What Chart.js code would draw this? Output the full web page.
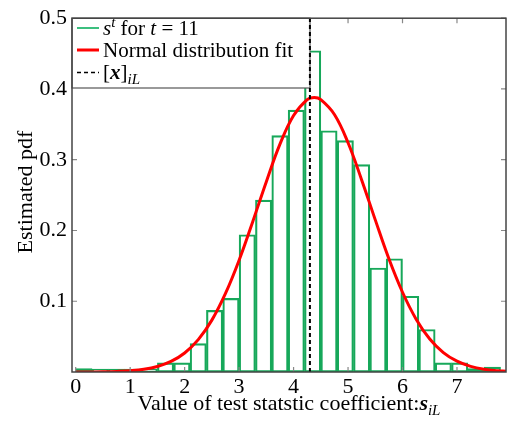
<!DOCTYPE html>
<html>
<head>
<meta charset="utf-8">
<script src="https://cdn.jsdelivr.net/npm/chart.js@4.4.1/dist/chart.umd.min.js"></script>
<style>
html, body { margin: 0; padding: 0; background: #fff; }
#wrap { width: 508px; height: 421px; position: relative; }
</style>
</head>
<body>
<div id="wrap"><canvas id="hist_chart"></canvas></div>
<script>
// histogram of s^t (bin width 0.3)
var binCenters = [0.15, 0.45, 0.75, 1.05, 1.35, 1.65, 1.95, 2.25, 2.55, 2.85, 3.15, 3.45, 3.75,
                  4.05, 4.35, 4.65, 4.95, 5.25, 5.55, 5.85, 6.15, 6.45, 6.75, 7.05, 7.35, 7.65];
var binHeights = [0.005, 0.004, 0.004, 0.004, 0.004, 0.013, 0.013, 0.040, 0.087, 0.104, 0.194, 0.243, 0.334,
                  0.370, 0.454, 0.341, 0.327, 0.293, 0.147, 0.160, 0.107, 0.060, 0.013, 0.013, 0.005, 0.007];

// normal fit curve
var fitX = [0, 0.25, 0.5, 0.75, 1, 1.25, 1.5, 1.75, 2, 2.25, 2.5, 2.75, 3, 3.25, 3.5, 3.75, 4, 4.25, 4.38,
            4.5, 4.75, 5, 5.25, 5.5, 5.75, 6, 6.25, 6.5, 6.75, 7, 7.25, 7.5, 7.75, 7.9];
var fitY = [0.0000, 0.0001, 0.0003, 0.0008, 0.0018, 0.0038, 0.0078, 0.0149, 0.0269, 0.0457, 0.0733,
            0.111, 0.158, 0.2125, 0.269, 0.322, 0.3625, 0.385, 0.388, 0.385, 0.364, 0.324, 0.2715, 0.215,
            0.160, 0.1127, 0.0747, 0.0467, 0.0275, 0.0153, 0.0080, 0.0039, 0.0018, 0.0011];

// dashed marker [x]_iL
var markerX = [4.3, 4.3];
var markerY = [0, 0.5];

var xTicks = [0, 1, 2, 3, 4, 5, 6, 7];
var yTicks = [0.1, 0.2, 0.3, 0.4, 0.5];

var GREEN = '#17a85a';
var SERIF = '"Liberation Serif", "DejaVu Serif", serif';

Chart.defaults.font.family = SERIF;
Chart.defaults.color = '#000';

function drawRich(ctx, parts, x, y) {
    parts.forEach(function (p) {
        ctx.font = (p.style || '') + ' ' + (p.size || 21) + 'px ' + SERIF;
        ctx.fillText(p.text, x, y + (p.dy || 0));
        x += ctx.measureText(p.text).width;
    });
    return x;
}

function measureRich(ctx, parts) {
    var w = 0;
    parts.forEach(function (p) {
        ctx.font = (p.style || '') + ' ' + (p.size || 21) + 'px ' + SERIF;
        w += ctx.measureText(p.text).width;
    });
    return w;
}

var framePlugin = {
    id: 'frame',
    afterDatasetDraw: function (chart, args) {
        // legend box goes over bars and fit, below the marker line
        if (args.index !== 1) return;
        var ctx = chart.ctx, a = chart.chartArea;
        var x0 = a.left, y0 = a.top, x1 = 310, y1 = 88;
        ctx.save();
        ctx.fillStyle = '#fff';
        ctx.fillRect(x0, y0, x1 - x0, y1 - y0);
        ctx.strokeStyle = '#555';
        ctx.lineWidth = 1.2;
        ctx.strokeRect(x0, y0, x1 - x0, y1 - y0);

        var rows = [28, 50, 72.5];
        ctx.lineWidth = 2;
        ctx.strokeStyle = '#3cbf7f';
        ctx.beginPath(); ctx.moveTo(77, rows[0]); ctx.lineTo(99, rows[0]); ctx.stroke();
        ctx.lineWidth = 3;
        ctx.strokeStyle = '#ff0000';
        ctx.beginPath(); ctx.moveTo(77, rows[1]); ctx.lineTo(99, rows[1]); ctx.stroke();
        ctx.lineWidth = 1.5;
        ctx.strokeStyle = '#000';
        ctx.setLineDash([4, 3]);
        ctx.beginPath(); ctx.moveTo(77, rows[2]); ctx.lineTo(99, rows[2]); ctx.stroke();
        ctx.setLineDash([]);

        ctx.fillStyle = '#000';
        ctx.textBaseline = 'alphabetic';
        ctx.textAlign = 'left';
        drawRich(ctx, [{text: 's', style: 'italic'}, {text: 't', style: 'italic', size: 15, dy: -8},
                       {text: ' for '}, {text: 't', style: 'italic'}, {text: ' = 11'}], 103, 35);
        drawRich(ctx, [{text: 'Normal distribution fit'}], 103, 57);
        drawRich(ctx, [{text: '['}, {text: 'x', style: 'italic bold'}, {text: ']'},
                       {text: 'i', style: 'italic', size: 15, dy: 5}, {text: 'L', style: 'italic', size: 15, dy: 5}], 103, 79);
        ctx.restore();
    },
    afterDraw: function (chart) {
        var ctx = chart.ctx, a = chart.chartArea;
        var xs = chart.scales.x, ys = chart.scales.y;
        ctx.save();
        // inward ticks on all four sides
        ctx.strokeStyle = '#888';
        ctx.lineWidth = 1.2;
        ctx.beginPath();
        xTicks.forEach(function (v) {
            var px = xs.getPixelForValue(v);
            ctx.moveTo(px, a.bottom); ctx.lineTo(px, a.bottom - 5);
            if (px > 312) { ctx.moveTo(px, a.top); ctx.lineTo(px, a.top + 5); }
        });
        yTicks.forEach(function (v) {
            var py = ys.getPixelForValue(v);
            if (py > 90) { ctx.moveTo(a.left, py); ctx.lineTo(a.left + 5, py); }
            ctx.moveTo(a.right, py); ctx.lineTo(a.right - 5, py);
        });
        ctx.stroke();
        // frame
        ctx.strokeStyle = '#444';
        ctx.lineWidth = 1.5;
        ctx.strokeRect(a.left, a.top, a.right - a.left, a.bottom - a.top);

        // axis titles
        ctx.fillStyle = '#000';
        ctx.textBaseline = 'alphabetic';
        ctx.textAlign = 'left';
        var xt = [{text: 'Value of test statstic coefficient:', size: 22},
                  {text: 's', style: 'italic bold', size: 22},
                  {text: 'i', style: 'italic', size: 15, dy: 5},
                  {text: 'L', style: 'italic', size: 15, dy: 5}];
        var w = measureRich(ctx, xt);
        drawRich(ctx, xt, 289 - w / 2, 410);

        ctx.translate(32, 192);
        ctx.rotate(-Math.PI / 2);
        ctx.textAlign = 'center';
        ctx.font = '22px ' + SERIF;
        ctx.fillText('Estimated pdf', 0, 0);
        ctx.restore();
    }
};

new Chart(document.getElementById('hist_chart').getContext('2d'), {
    type: 'bar',
    data: {
        datasets: [{
            type: 'bar',
            label: 's^t for t = 11',
            data: binCenters.map(function (c, i) { return {x: c, y: binHeights[i]}; }),
            backgroundColor: 'rgba(255,255,255,0)',
            borderColor: GREEN,
            borderWidth: 1.5,
            borderSkipped: false,
            barPercentage: 1,
            categoryPercentage: 1,
            order: 3
        }, {
            type: 'line',
            label: 'Normal distribution fit',
            data: fitX.map(function (x, i) { return {x: x, y: fitY[i]}; }),
            borderColor: '#ff0000',
            borderWidth: 3,
            pointRadius: 0,
            tension: 0.4,
            fill: false,
            order: 2
        }, {
            type: 'line',
            label: '[x]_iL',
            data: markerX.map(function (x, i) { return {x: x, y: markerY[i]}; }),
            borderColor: '#000',
            borderWidth: 2,
            borderDash: [4, 3],
            pointRadius: 0,
            fill: false,
            order: 1
        }]
    },
    options: {
        responsive: true,
        maintainAspectRatio: false,
        animation: false,
        layout: { padding: { top: 12, right: 2, left: 0, bottom: 0 } },
        plugins: { legend: { display: false }, tooltip: { enabled: false } },
        scales: {
            x: {
                type: 'linear',
                min: -0.068,
                max: 7.9,
                offset: false,
                afterFit: function (s) { s.height = 49; },
                afterBuildTicks: function (s) { s.ticks = xTicks.map(function (v) { return {value: v}; }); },
                ticks: { padding: 2, font: { size: 22 }, callback: function (v) { return String(v); } },
                grid: { display: false, drawTicks: false },
                border: { display: false }
            },
            y: {
                min: 0,
                max: 0.5,
                afterFit: function (s) { s.width = 72; },
                afterBuildTicks: function (s) { s.ticks = yTicks.map(function (v) { return {value: v}; }); },
                ticks: { padding: 5, font: { size: 22 }, callback: function (v) { return v.toFixed(1); } },
                grid: { display: false, drawTicks: false },
                border: { display: false }
            }
        }
    },
    plugins: [framePlugin]
});
</script>
</body>
</html>
